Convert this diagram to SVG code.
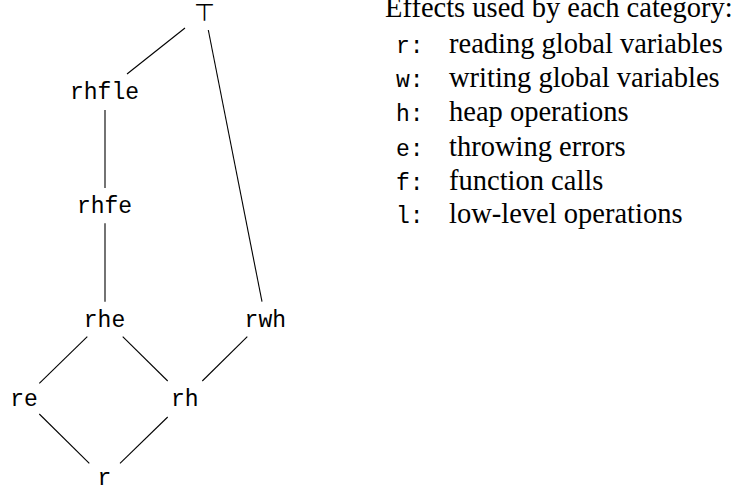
<svg xmlns="http://www.w3.org/2000/svg" width="737" height="489" viewBox="0 0 737 489">
<style>
.n{font-family:"Liberation Mono","DejaVu Sans Mono",monospace;font-size:23px;fill:#000;text-anchor:middle}
.m{font-family:"Liberation Mono","DejaVu Sans Mono",monospace;font-size:23px;fill:#000}
.s{font-family:"Liberation Serif","DejaVu Serif",serif;font-size:28.5px;fill:#000}
.top{font-family:"DejaVu Sans",sans-serif;font-size:24px;fill:#000;text-anchor:middle}
.e line{stroke:#000;stroke-width:1.1;fill:none}
</style>
<rect width="737" height="489" fill="#fff"/>
<g class="e" id="connectors">
<line x1="185" y1="28" x2="127" y2="74"/>
<line x1="208.3" y1="30" x2="262" y2="301.7"/>
<line x1="105" y1="110" x2="105" y2="188"/>
<line x1="105" y1="223.3" x2="105" y2="301.7"/>
<line x1="87.3" y1="336.7" x2="39.3" y2="383.3"/>
<line x1="122.7" y1="336.7" x2="167.7" y2="381"/>
<line x1="247.3" y1="336.7" x2="202.3" y2="381"/>
<line x1="39.3" y1="414" x2="89.3" y2="463.3"/>
<line x1="167.7" y1="417" x2="120" y2="463.3"/>
</g>
<g id="node-top"><text class="top" x="204.5" y="21">⊤</text></g>
<g id="node-rhfle"><text class="n" x="104.5" y="99">rhfle</text></g>
<g id="node-rhfe"><text class="n" x="104.5" y="213">rhfe</text></g>
<g id="node-rhe"><text class="n" x="104.5" y="327">rhe</text></g>
<g id="node-rwh"><text class="n" x="265.3" y="327">rwh</text></g>
<g id="node-re"><text class="n" x="24" y="406">re</text></g>
<g id="node-rh"><text class="n" x="184.7" y="406">rh</text></g>
<g id="node-r"><text class="n" x="104.5" y="485">r</text></g>
<g id="legend">
<text class="s" x="385" y="17">Effects used by each category:</text>
<text class="m" x="396" y="53">r:</text><text class="s" x="449" y="53">reading global variables</text>
<text class="m" x="396" y="87">w:</text><text class="s" x="449" y="87">writing global variables</text>
<text class="m" x="396" y="121">h:</text><text class="s" x="449" y="121">heap operations</text>
<text class="m" x="396" y="155.5">e:</text><text class="s" x="449" y="155.5">throwing errors</text>
<text class="m" x="396" y="190">f:</text><text class="s" x="449" y="190">function calls</text>
<text class="m" x="396" y="223">l:</text><text class="s" x="449" y="223">low-level operations</text>
</g>
</svg>
